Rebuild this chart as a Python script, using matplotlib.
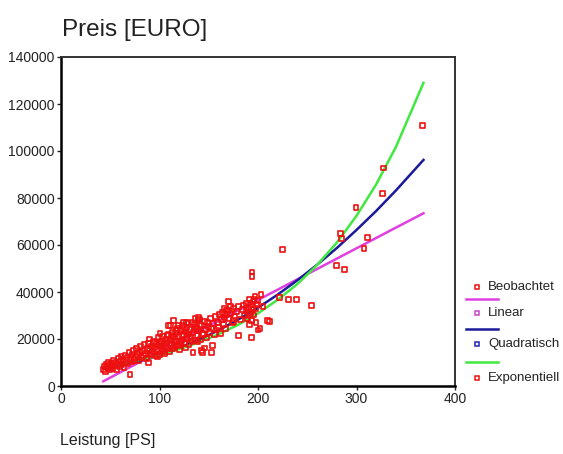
import numpy as np
import matplotlib.pyplot as plt

plt.rcParams['font.family'] = ['Liberation Sans', 'DejaVu Sans']

# beobachtete Werte: Leistung [PS] / Preis [Tsd. EURO]
ps = [43, 44, 45, 46, 47, 48, 49, 50, 51, 52, 53, 54, 55, 56, 57, 58, 59, 60, 61, 62,
      63, 64, 65, 66, 67, 68, 69, 70, 70, 71, 72, 73, 74, 75, 76, 77, 78, 79, 80, 81,
      82, 83, 84, 85, 86, 87, 88, 88.5, 89, 90, 90, 91, 92, 93, 94, 95, 96, 97, 98, 99,
      100, 100, 100.5, 101, 102, 103, 104, 105, 106, 107, 108, 109, 109, 110, 111, 111, 112, 113, 114, 114,
      115, 116, 117, 118, 119, 120, 120, 121, 122, 123, 124, 124, 125, 126, 127, 127, 128, 129, 130, 131,
      132, 133, 134, 134, 135, 136, 137, 138, 139, 140, 140, 141, 142, 143, 143, 144, 145, 146, 147, 148,
      149, 150, 151, 152, 153, 153, 154, 155, 156, 157, 158, 159, 160, 161, 162, 163, 164, 165, 166, 167,
      168, 169, 170, 170, 172, 174, 175, 176, 178, 180, 180, 182, 184, 186, 188, 189, 190, 191, 192, 193.6,
      194, 194, 195, 196, 197, 198, 200, 200, 202, 203, 205, 210, 212, 222, 225, 231, 239, 254.5, 280, 284,
      285, 288, 299.5, 307.6, 311, 326.6, 327, 367,
      92, 95, 98, 102, 104, 106, 108, 110, 112, 113, 115, 117, 118, 119, 121, 123, 125, 126, 128, 129,
      131, 133, 135, 136, 138, 139, 141, 144, 146, 190, 191, 192, 193, 195, 196, 198, 199, 188, 185, 172,
      168, 166, 175]
preis = [7.0, 8.5, 6.2, 9.0, 7.8, 10.2, 6.8, 8.2, 9.5, 7.4, 11.0, 8.8, 10.0, 7.0, 9.2, 11.8, 8.4, 10.6, 12.4, 9.0,
         11.2, 7.9, 13.0, 10.0, 12.0, 9.4, 14.2, 11.4, 4.8, 12.8, 10.2, 13.6, 15.0, 11.0, 12.2, 15.8, 13.4, 10.8, 14.5, 16.8,
         12.0, 15.2, 13.0, 17.5, 14.0, 11.8, 16.0, 10.0, 18.2, 15.0, 20.0, 13.2, 17.0, 14.6, 19.0, 16.2, 12.8, 18.0, 15.4, 20.5,
         17.0, 13.5, 22.5, 19.0, 15.2, 21.0, 17.6, 13.8, 20.0, 18.4, 16.0, 25.7, 22.0, 14.5, 19.6, 25.6, 17.2, 23.0, 27.8, 20.5,
         16.6, 22.4, 18.8, 24.5, 21.0, 15.7, 17.8, 23.6, 19.5, 25.8, 27.1, 21.4, 18.0, 23.0, 27.1, 20.2, 25.0, 22.0, 17.6, 24.2,
         20.6, 27.1, 14.3, 22.8, 26.0, 19.4, 24.8, 21.6, 28.0, 29.0, 23.4, 28.5, 19.8, 15.0, 25.6, 14.3, 22.0, 27.4, 24.0, 20.4,
         27.1, 25.2, 22.6, 28.8, 14.3, 24.4, 17.1, 26.6, 21.8, 29.6, 23.8, 27.0, 25.0, 30.4, 22.4, 28.2, 31.4, 26.0, 29.2, 24.4,
         32.0, 32.1, 35.9, 28.6, 30.6, 26.8, 33.0, 29.8, 31.6, 21.4, 34.0, 28.4, 32.6, 30.0, 35.0, 28.5, 33.4, 37.0, 31.2, 20.5,
         48.5, 46.5, 35.8, 30.2, 38.0, 33.0, 23.8, 36.4, 24.3, 39.0, 34.0, 27.8, 27.6, 37.5, 58.2, 36.8, 36.8, 34.2, 51.4, 65.0,
         62.8, 49.5, 76.0, 58.5, 63.2, 82.0, 92.8, 111.0,
         14.0, 18.5, 12.5, 18.0, 14.8, 16.8, 21.5, 18.0, 21.0, 15.8, 19.8, 23.5, 17.0, 25.8, 18.5, 22.0, 24.6, 16.5, 20.8, 26.8,
         21.0, 19.0, 23.8, 28.6, 24.4, 19.0, 26.0, 22.5, 16.2, 30.8, 26.0, 34.6, 28.0, 32.4, 36.8, 27.0, 34.8, 32.0, 34.5, 33.8,
         30.5, 33.0, 27.5]

# angepasste Kurven
fit_ps = [43, 60, 80, 100, 120, 140, 160, 180, 200, 220, 240, 260, 280, 300, 320, 340, 368]
linear = [2.0, 5.8, 10.2, 14.6, 19.0, 23.4, 27.8, 32.2, 36.6, 41.0, 45.4, 49.8, 54.2, 58.6, 63.0, 67.4, 73.5]
quadratisch = [7.5, 8.8, 10.7, 13.2, 16.2, 19.7, 23.7, 28.3, 33.3, 38.9, 45.0, 51.6, 58.7, 66.4, 74.5, 83.2, 96.2]
exponentiell = [8.1, 9.4, 11.1, 13.2, 15.7, 18.6, 22.0, 26.1, 30.9, 36.7, 43.4, 51.5, 61.0, 72.4, 85.8, 101.7, 129.0]

fig = plt.figure(figsize=(5.63, 4.54), dpi=100)
ax = fig.add_axes([61/563, 1-386/454, (455-61)/563, (386-57)/454])

ax.plot(fit_ps, np.array(linear)*1000, color='#e040e0', lw=1.8, zorder=3)
ax.plot(fit_ps, np.array(quadratisch)*1000, color='#1a1a9a', lw=1.8, zorder=3)
ax.plot(fit_ps, np.array(exponentiell)*1000, color='#40e840', lw=1.8, zorder=3)
ax.scatter(ps, np.array(preis)*1000, marker='s', s=12, facecolors='none',
           edgecolors='#ee1010', linewidths=1.2, zorder=4)

ax.set_xlim(0, 400)
ax.set_ylim(0, 140000)
ax.set_xticks([0, 100, 200, 300, 400])
ax.set_yticks(np.arange(0, 140001, 20000))
ax.tick_params(direction='out', length=3, width=1, labelsize=10, pad=1.5, colors='#222222')
for s in ['left', 'bottom']:
    ax.spines[s].set_linewidth(1.8)
for s in ['top', 'right']:
    ax.spines[s].set_linewidth(1.4)
    ax.spines[s].set_color('#333333')

fig.text(62/563, 1-30/454, 'Preis [EURO]', fontsize=17.5, va='center', ha='left', color='#222222')
fig.text(60/563, 1-441/454, 'Leistung [PS]', fontsize=11.5, va='center', ha='left', color='#222222')

# Legende (SPSS-Stil)
lg = fig.add_axes([0, 0, 1, 1], facecolor='none')
lg.set_xlim(0, 563)
lg.set_ylim(454, 0)
lg.axis('off')
rows = [(287, 'm', '#ee1010', 'Beobachtet'), (299, 'l', '#e040e0', None), (313, 'm', '#cc44cc', 'Linear'),
        (329, 'l', '#1a1a9a', None), (344, 'm', '#2222bb', 'Quadratisch'), (362, 'l', '#40e840', None),
        (378, 'm', '#ee1010', 'Exponentiell')]
for y, kind, col, label in rows:
    if kind == 'm':
        lg.plot([477], [y], marker='s', ms=3.5, mfc='none', mec=col, mew=1.1)
        lg.text(488, y, label, fontsize=9.5, va='center', ha='left', color='#222222')
    else:
        lg.plot([466, 498], [y, y], color=col, lw=1.8)

fig.savefig('out.png', dpi=100)
